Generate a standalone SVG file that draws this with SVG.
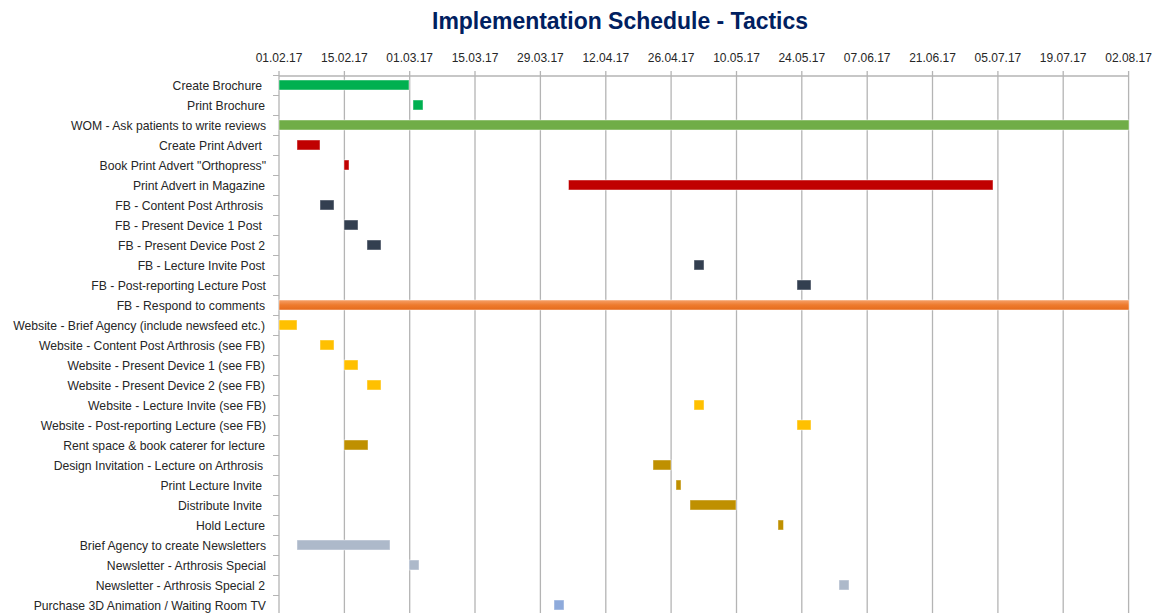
<svg xmlns="http://www.w3.org/2000/svg" width="1165" height="613" viewBox="0 0 1165 613">
<style>
.bg{fill:#fff}
.title{font-family:"Liberation Sans",Arial,sans-serif;font-weight:bold;font-size:24px;fill:#002060}
.ax{font-family:"Liberation Sans",Arial,sans-serif;font-size:12px;fill:#262626;text-anchor:middle}
.lb{font-family:"Liberation Sans",Arial,sans-serif;font-size:12.2px;fill:#262626;text-anchor:end}
.grid line{stroke:#b4b4b4;stroke-width:1.3}
.tick line{stroke:#b4b4b4;stroke-width:1}
.bar{stroke:#fff;stroke-opacity:0.45;stroke-width:1}
.green{fill:#00b050}.wom{fill:#70ad47}.red{fill:#c00000}.fb{fill:#333f50}
.org{fill:url(#og)}.web{fill:#ffc000}.gold{fill:#bf9000}.nl{fill:#adb9ca}.blue{fill:#8eaadb}
</style>
<defs>
<linearGradient id="og" x1="0" y1="0" x2="0" y2="1">
<stop offset="0" stop-color="#f6a069"/>
<stop offset="0.5" stop-color="#ee7b2e"/>
<stop offset="1" stop-color="#e56b1c"/>
</linearGradient>
</defs>
<rect class="bg" x="0" y="0" width="1165" height="613"/>
<text class="title" x="620" y="29" text-anchor="middle" textLength="376" lengthAdjust="spacingAndGlyphs">Implementation Schedule - Tactics</text>
<g id="axis-labels">
<text class="ax" x="279" y="62">01.02.17</text>
<text class="ax" x="344.4" y="62">15.02.17</text>
<text class="ax" x="409.7" y="62">01.03.17</text>
<text class="ax" x="475" y="62">15.03.17</text>
<text class="ax" x="540.4" y="62">29.03.17</text>
<text class="ax" x="605.8" y="62">12.04.17</text>
<text class="ax" x="671.1" y="62">26.04.17</text>
<text class="ax" x="736.5" y="62">10.05.17</text>
<text class="ax" x="801.8" y="62">24.05.17</text>
<text class="ax" x="867.2" y="62">07.06.17</text>
<text class="ax" x="932.5" y="62">21.06.17</text>
<text class="ax" x="997.9" y="62">05.07.17</text>
<text class="ax" x="1063.2" y="62">19.07.17</text>
<text class="ax" x="1128.6" y="62">02.08.17</text>
</g>
<g id="grid" class="grid">
<line x1="279" y1="71" x2="279" y2="613"/>
<line x1="344.4" y1="71" x2="344.4" y2="613"/>
<line x1="409.7" y1="71" x2="409.7" y2="613"/>
<line x1="475" y1="71" x2="475" y2="613"/>
<line x1="540.4" y1="71" x2="540.4" y2="613"/>
<line x1="605.8" y1="71" x2="605.8" y2="613"/>
<line x1="671.1" y1="71" x2="671.1" y2="613"/>
<line x1="736.5" y1="71" x2="736.5" y2="613"/>
<line x1="801.8" y1="71" x2="801.8" y2="613"/>
<line x1="867.2" y1="71" x2="867.2" y2="613"/>
<line x1="932.5" y1="71" x2="932.5" y2="613"/>
<line x1="997.9" y1="71" x2="997.9" y2="613"/>
<line x1="1063.2" y1="71" x2="1063.2" y2="613"/>
<line x1="1128.6" y1="71" x2="1128.6" y2="613"/>
<line x1="279" y1="76" x2="1129" y2="76"/>
</g>
<g id="row-ticks" class="tick">
<line x1="273" y1="75.5" x2="279" y2="75.5"/><line x1="273" y1="95.5" x2="279" y2="95.5"/><line x1="273" y1="115.5" x2="279" y2="115.5"/><line x1="273" y1="135.5" x2="279" y2="135.5"/><line x1="273" y1="155.5" x2="279" y2="155.5"/><line x1="273" y1="175.5" x2="279" y2="175.5"/><line x1="273" y1="195.5" x2="279" y2="195.5"/><line x1="273" y1="215.5" x2="279" y2="215.5"/><line x1="273" y1="235.5" x2="279" y2="235.5"/><line x1="273" y1="255.5" x2="279" y2="255.5"/><line x1="273" y1="275.5" x2="279" y2="275.5"/><line x1="273" y1="295.5" x2="279" y2="295.5"/><line x1="273" y1="315.5" x2="279" y2="315.5"/><line x1="273" y1="335.5" x2="279" y2="335.5"/><line x1="273" y1="355.5" x2="279" y2="355.5"/><line x1="273" y1="375.5" x2="279" y2="375.5"/><line x1="273" y1="395.5" x2="279" y2="395.5"/><line x1="273" y1="415.5" x2="279" y2="415.5"/><line x1="273" y1="435.5" x2="279" y2="435.5"/><line x1="273" y1="455.5" x2="279" y2="455.5"/><line x1="273" y1="475.5" x2="279" y2="475.5"/><line x1="273" y1="495.5" x2="279" y2="495.5"/><line x1="273" y1="515.5" x2="279" y2="515.5"/><line x1="273" y1="535.5" x2="279" y2="535.5"/><line x1="273" y1="555.5" x2="279" y2="555.5"/><line x1="273" y1="575.5" x2="279" y2="575.5"/><line x1="273" y1="595.5" x2="279" y2="595.5"/>
</g>
<g id="task-01"><text class="lb" x="262" y="90">Create Brochure</text><rect class="bar green" x="279" y="80" width="130" height="10"/></g>
<g id="task-02"><text class="lb" x="265" y="110">Print Brochure</text><rect class="bar green" x="413" y="100" width="10" height="10"/></g>
<g id="task-03"><text class="lb" x="266" y="130">WOM - Ask patients to write reviews</text><rect class="bar wom" x="279" y="120" width="850" height="10"/></g>
<g id="task-04"><text class="lb" x="262" y="150">Create Print Advert</text><rect class="bar red" x="297" y="140" width="23" height="10"/></g>
<g id="task-05"><text class="lb" x="266" y="170">Book Print Advert "Orthopress"</text><rect class="bar red" x="344" y="160" width="5" height="10"/></g>
<g id="task-06"><text class="lb" x="265" y="190">Print Advert in Magazine</text><rect class="bar red" x="568.5" y="180" width="424.5" height="10"/></g>
<g id="task-07"><text class="lb" x="263" y="210">FB - Content Post Arthrosis</text><rect class="bar fb" x="320" y="200" width="14" height="10"/></g>
<g id="task-08"><text class="lb" x="262" y="230">FB - Present Device 1 Post</text><rect class="bar fb" x="344" y="220" width="14" height="10"/></g>
<g id="task-09"><text class="lb" x="265" y="250">FB - Present Device Post 2</text><rect class="bar fb" x="367" y="240" width="14" height="10"/></g>
<g id="task-10"><text class="lb" x="265" y="270">FB - Lecture Invite Post</text><rect class="bar fb" x="694" y="260" width="10" height="10"/></g>
<g id="task-11"><text class="lb" x="266" y="290">FB - Post-reporting Lecture Post</text><rect class="bar fb" x="797" y="280" width="14" height="10"/></g>
<g id="task-12"><text class="lb" x="265" y="310">FB - Respond to comments</text><rect class="bar org" x="279" y="300" width="850" height="10"/></g>
<g id="task-13"><text class="lb" x="265" y="330">Website - Brief Agency (include newsfeed etc.)</text><rect class="bar web" x="279" y="320" width="18" height="10"/></g>
<g id="task-14"><text class="lb" x="265" y="350">Website - Content Post Arthrosis (see FB)</text><rect class="bar web" x="320" y="340" width="14" height="10"/></g>
<g id="task-15"><text class="lb" x="265" y="370">Website - Present Device 1 (see FB)</text><rect class="bar web" x="344" y="360" width="14" height="10"/></g>
<g id="task-16"><text class="lb" x="265" y="390">Website - Present Device 2 (see FB)</text><rect class="bar web" x="367" y="380" width="14" height="10"/></g>
<g id="task-17"><text class="lb" x="266" y="410">Website - Lecture Invite (see FB)</text><rect class="bar web" x="694" y="400" width="10" height="10"/></g>
<g id="task-18"><text class="lb" x="266" y="430">Website - Post-reporting Lecture (see FB)</text><rect class="bar web" x="797" y="420" width="14" height="10"/></g>
<g id="task-19"><text class="lb" x="265" y="450">Rent space &amp; book caterer for lecture</text><rect class="bar gold" x="344" y="440" width="24" height="10"/></g>
<g id="task-20"><text class="lb" x="263" y="470">Design Invitation - Lecture on Arthrosis</text><rect class="bar gold" x="653" y="460" width="18" height="10"/></g>
<g id="task-21"><text class="lb" x="262" y="490">Print Lecture Invite</text><rect class="bar gold" x="676" y="480" width="5" height="10"/></g>
<g id="task-22"><text class="lb" x="262" y="510">Distribute Invite</text><rect class="bar gold" x="690" y="500" width="46" height="10"/></g>
<g id="task-23"><text class="lb" x="265" y="530">Hold Lecture</text><rect class="bar gold" x="778" y="520" width="5.5" height="10"/></g>
<g id="task-24"><text class="lb" x="266" y="550">Brief Agency to create Newsletters</text><rect class="bar nl" x="297" y="540" width="93" height="10"/></g>
<g id="task-25"><text class="lb" x="266" y="570">Newsletter - Arthrosis Special</text><rect class="bar nl" x="409" y="560" width="10" height="10"/></g>
<g id="task-26"><text class="lb" x="265" y="590">Newsletter - Arthrosis Special 2</text><rect class="bar nl" x="839" y="580" width="10" height="10"/></g>
<g id="task-27"><text class="lb" x="266" y="610">Purchase 3D Animation / Waiting Room TV</text><rect class="bar blue" x="554" y="600" width="10" height="10"/></g>
</svg>
